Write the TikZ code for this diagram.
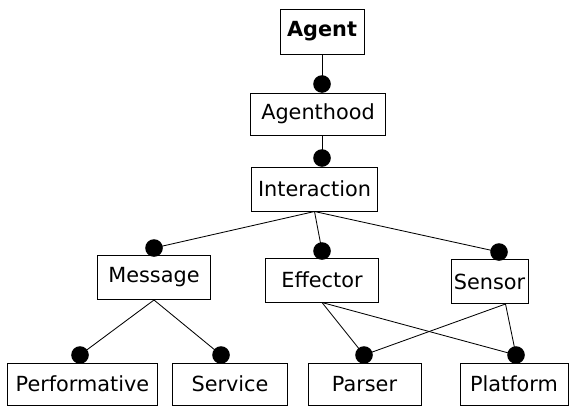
\documentclass[tikz,border=0pt]{standalone}
\usepackage{fontspec}
\setmainfont{DejaVu Sans}
\usepackage{tikz}
\usetikzlibrary{positioning}
\tikzset{
  feat/.style={draw, line width=0.7pt, align=center, inner sep=0pt, minimum height=1.1cm, font=\fontsize{14.8}{17}\selectfont},
  knob/.style={circle, fill=black, inner sep=0pt, minimum size=0.44cm},
  link/.style={line width=0.6pt}
}
\begin{document}
\begin{tikzpicture}[x=0.025cm, y=-0.025cm]
    \path[use as bounding box] (0,0) rectangle (569,407);
    % features
    \node[feat, minimum width=2.1cm, minimum height=1.125cm] (agent) at (322,31.5) {\textbf{Agent}};
    \node[feat, minimum width=3.35cm, minimum height=1.05cm] (agenthood) at (318,114) {Agenthood};
    \node[feat, minimum width=3.125cm] (interaction) at (314.5,189) {Interaction};
    \node[feat, minimum width=2.8cm] (message) at (154,277.5) {Message};
    \node[feat, minimum width=2.8cm] (effector) at (322,280) {Effector};
    \node[feat, minimum width=1.925cm] (sensor) at (489.5,281.5) {Sensor};
    \node[feat, minimum width=3.725cm, minimum height=1.05cm] (performative) at (82.5,384) {Performative};
    \node[feat, minimum width=2.85cm, minimum height=1.05cm] (service) at (230,384) {Service};
    \node[feat, minimum width=2.825cm, minimum height=1.05cm] (parser) at (364.5,384) {Parser};
    \node[feat, minimum width=2.7cm, minimum height=1.05cm] (platform) at (514,384) {Platform};

    % mandatory dots
    \node[knob] (kagenthood) at (322,84) {};
    \node[knob] (kinteraction) at (322,158) {};
    \node[knob] (kmessage) at (154,248) {};
    \node[knob] (keffector) at (322,251) {};
    \node[knob] (ksensor) at (499,252) {};
    \node[knob] (kperformative) at (80,355) {};
    \node[knob] (kservice) at (221,355) {};
    \node[knob] (kparser) at (364,355) {};
    \node[knob] (kplatform) at (516,355) {};

    \draw[link] (agent.south) -- (kagenthood.center);
    \draw[link] (agenthood.south -| kinteraction) -- (kinteraction.center);
    \draw[link] (interaction.south) -- (kmessage.center);
    \draw[link] (interaction.south) -- (keffector.center);
    \draw[link] (interaction.south) -- (ksensor.center);
    \draw[link] (message.south) -- (kperformative.center);
    \draw[link] (message.south) -- (kservice.center);
    \draw[link] (effector.south) -- (kparser.center);
    \draw[link] (effector.south) -- (kplatform.center);
    \draw[link] ([xshift=0.4cm]sensor.south) -- (kparser.center);
    \draw[link] ([xshift=0.4cm]sensor.south) -- (kplatform.center);
\end{tikzpicture}
\end{document}
